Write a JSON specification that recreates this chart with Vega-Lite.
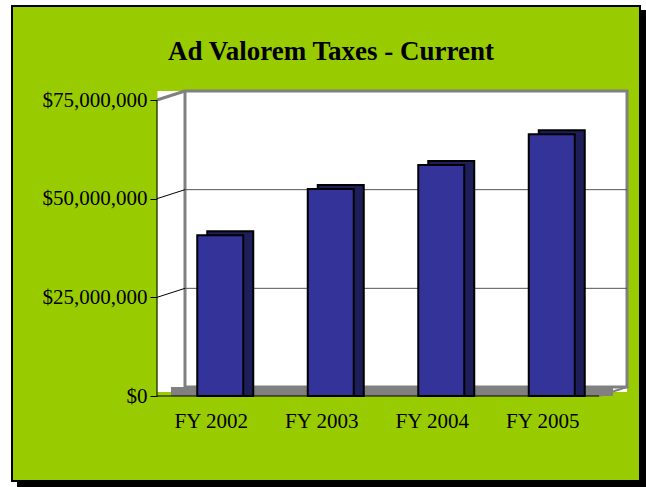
{
  "$schema": "https://vega.github.io/schema/vega-lite/v6.json",
  "width": 628,
  "height": 475,
  "autosize": {"type": "none"},
  "padding": {"left": 12, "top": 6, "right": 6, "bottom": 6},
  "background": "white",
  "config": {
    "view": {"stroke": "black", "strokeWidth": 2, "fill": "#99CC00"},
    "font": "Liberation Serif",
    "axisY": {
      "orient": "left",
      "offset": -145,
      "zindex": 0,
      "format": "$,.0f",
      "domain": false,
      "grid": false,
      "ticks": true,
      "tickColor": "black",
      "tickSize": 7,
      "tickWidth": 1,
      "labelPadding": 3,
      "labelFont": "Liberation Serif",
      "labelFontSize": 21,
      "labelColor": "black",
      "title": null
    }
  },
  "title": {
    "text": "Ad Valorem Taxes - Current",
    "font": "Liberation Serif",
    "fontSize": 27,
    "fontWeight": "bold",
    "color": "black",
    "anchor": "middle",
    "frame": "group",
    "baseline": "alphabetic",
    "offset": -81,
    "dx": 5
  },
  "datasets": {
    "taxes": [
      {"i": 1, "year": "FY 2002", "amount": 40500000},
      {"i": 2, "year": "FY 2003", "amount": 52200000},
      {"i": 3, "year": "FY 2004", "amount": 58300000},
      {"i": 4, "year": "FY 2005", "amount": 66100000}
    ],
    "gridlines": [{"tick": 25000000}, {"tick": 50000000}],
    "one": [{}]
  },
  "layer": [
    {
      "data": {"name": "one"},
      "mark": {"type": "rect", "fill": "black", "xOffset": 1, "x2Offset": 6, "yOffset": 4, "y2Offset": 6},
      "encoding": {
        "x": {"datum": 4.871, "type": "quantitative", "scale": {"domain": [-0.8122, 4.871], "nice": false, "zero": false, "padding": 0}, "axis": null},
        "x2": {"datum": 4.871},
        "y": {"datum": 98818000, "type": "quantitative", "scale": {"domain": [-21537000, 98818000], "nice": false, "zero": false}, "axis": {"title": null, "values": [0, 25000000, 50000000, 75000000]}},
        "y2": {"datum": -21537000}
      }
    },
    {
      "data": {"name": "one"},
      "mark": {"type": "rect", "fill": "black", "xOffset": 5, "x2Offset": 6, "yOffset": 1, "y2Offset": 6},
      "encoding": {
        "x": {"datum": -0.8122, "type": "quantitative", "scale": {"domain": [-0.8122, 4.871], "nice": false, "zero": false, "padding": 0}, "axis": null},
        "x2": {"datum": 4.871},
        "y": {"datum": -21537000, "type": "quantitative", "scale": {"domain": [-21537000, 98818000], "nice": false, "zero": false}, "axis": {"title": null, "values": [0, 25000000, 50000000, 75000000]}},
        "y2": {"datum": -21537000}
      }
    },
    {
      "data": {"name": "one"},
      "mark": {"type": "rect", "fill": "white", "xOffset": 0.5, "x2Offset": 28, "yOffset": -4, "y2Offset": -9},
      "encoding": {
        "x": {"datum": 0.5, "type": "quantitative", "scale": {"domain": [-0.8122, 4.871], "nice": false, "zero": false, "padding": 0}, "axis": null},
        "x2": {"datum": 4.5},
        "y": {"datum": 0, "type": "quantitative", "scale": {"domain": [-21537000, 98818000], "nice": false, "zero": false}, "axis": {"title": null, "values": [0, 25000000, 50000000, 75000000]}},
        "y2": {"datum": 75000000}
      }
    },
    {
      "data": {"name": "one"},
      "mark": {"type": "rect", "fill": "#808080", "xOffset": 14, "x2Offset": 14, "yOffset": -0.01, "y2Offset": -9},
      "encoding": {
        "x": {"datum": 0.5, "type": "quantitative", "scale": {"domain": [-0.8122, 4.871], "nice": false, "zero": false, "padding": 0}, "axis": null},
        "x2": {"datum": 4.5},
        "y": {"datum": 0, "type": "quantitative", "scale": {"domain": [-21537000, 98818000], "nice": false, "zero": false}, "axis": {"title": null, "values": [0, 25000000, 50000000, 75000000]}},
        "y2": {"datum": 0}
      }
    },
    {
      "data": {"name": "one"},
      "mark": {"type": "rect", "fill": null, "filled": false, "stroke": "#808080", "strokeWidth": 3, "xOffset": 28, "x2Offset": 28, "yOffset": -9, "y2Offset": -9},
      "encoding": {
        "x": {"datum": 0.5, "type": "quantitative", "scale": {"domain": [-0.8122, 4.871], "nice": false, "zero": false, "padding": 0}, "axis": null},
        "x2": {"datum": 4.5},
        "y": {"datum": 0, "type": "quantitative", "scale": {"domain": [-21537000, 98818000], "nice": false, "zero": false}, "axis": {"title": null, "values": [0, 25000000, 50000000, 75000000]}},
        "y2": {"datum": 75000000}
      }
    },
    {
      "data": {"name": "one"},
      "mark": {"type": "rule", "stroke": "#808080", "strokeWidth": 3, "x2Offset": 28, "y2Offset": -9},
      "encoding": {
        "x": {"datum": 0.5, "type": "quantitative", "scale": {"domain": [-0.8122, 4.871], "nice": false, "zero": false, "padding": 0}, "axis": null},
        "x2": {"datum": 0.5},
        "y": {"datum": 75000000, "type": "quantitative", "scale": {"domain": [-21537000, 98818000], "nice": false, "zero": false}, "axis": {"title": null, "values": [0, 25000000, 50000000, 75000000]}},
        "y2": {"datum": 75000000}
      }
    },
    {
      "data": {"name": "one"},
      "mark": {"type": "rule", "stroke": "#808080", "strokeWidth": 2, "x2Offset": 28, "y2Offset": -9},
      "encoding": {
        "x": {"datum": 4.5, "type": "quantitative", "scale": {"domain": [-0.8122, 4.871], "nice": false, "zero": false, "padding": 0}, "axis": null},
        "x2": {"datum": 4.5},
        "y": {"datum": 0, "type": "quantitative", "scale": {"domain": [-21537000, 98818000], "nice": false, "zero": false}, "axis": {"title": null, "values": [0, 25000000, 50000000, 75000000]}},
        "y2": {"datum": 0}
      }
    },
    {
      "data": {"name": "gridlines"},
      "mark": {"type": "rule", "stroke": "#555555", "strokeWidth": 1, "xOffset": 28, "x2Offset": 28, "yOffset": -9},
      "encoding": {
        "x": {"datum": 0.5, "type": "quantitative", "scale": {"domain": [-0.8122, 4.871], "nice": false, "zero": false, "padding": 0}, "axis": null},
        "x2": {"datum": 4.5},
        "y": {"field": "tick", "type": "quantitative", "scale": {"domain": [-21537000, 98818000], "nice": false, "zero": false}, "axis": {"title": null, "values": [0, 25000000, 50000000, 75000000]}}
      }
    },
    {
      "data": {"name": "gridlines"},
      "mark": {"type": "rule", "stroke": "black", "strokeWidth": 1, "x2Offset": 28, "y2Offset": -9},
      "encoding": {
        "x": {"datum": 0.5, "type": "quantitative", "scale": {"domain": [-0.8122, 4.871], "nice": false, "zero": false, "padding": 0}, "axis": null},
        "x2": {"datum": 0.5},
        "y": {"field": "tick", "type": "quantitative", "scale": {"domain": [-21537000, 98818000], "nice": false, "zero": false}, "axis": {"title": null, "values": [0, 25000000, 50000000, 75000000]}},
        "y2": {"field": "tick"}
      }
    },
    {
      "data": {"name": "one"},
      "mark": {"type": "rule", "stroke": "black", "strokeWidth": 1},
      "encoding": {
        "x": {"datum": 0.5, "type": "quantitative", "scale": {"domain": [-0.8122, 4.871], "nice": false, "zero": false, "padding": 0}, "axis": null},
        "y": {"datum": 0, "type": "quantitative", "scale": {"domain": [-21537000, 98818000], "nice": false, "zero": false}, "axis": {"title": null, "values": [0, 25000000, 50000000, 75000000]}},
        "y2": {"datum": 75000000}
      }
    },
    {
      "data": {"name": "one"},
      "mark": {"type": "rule", "stroke": "black", "strokeWidth": 1},
      "encoding": {
        "x": {"datum": 0.5, "type": "quantitative", "scale": {"domain": [-0.8122, 4.871], "nice": false, "zero": false, "padding": 0}, "axis": null},
        "x2": {"datum": 4.5},
        "y": {"datum": 0, "type": "quantitative", "scale": {"domain": [-21537000, 98818000], "nice": false, "zero": false}, "axis": {"title": null, "values": [0, 25000000, 50000000, 75000000]}}
      }
    },
    {
      "data": {"name": "taxes"},
      "mark": {"type": "bar", "size": 46, "fill": "#1E1E5A", "stroke": "black", "strokeWidth": 2, "xOffset": 18, "x2Offset": 18, "yOffset": -5, "y2Offset": -5},
      "encoding": {
        "x": {"field": "i", "type": "quantitative", "scale": {"domain": [-0.8122, 4.871], "nice": false, "zero": false, "padding": 0}, "axis": null},
        "y": {"field": "amount", "type": "quantitative", "stack": null, "scale": {"domain": [-21537000, 98818000], "nice": false, "zero": false}, "axis": {"title": null, "values": [0, 25000000, 50000000, 75000000]}}
      }
    },
    {
      "data": {"name": "taxes"},
      "mark": {"type": "bar", "size": 46, "fill": "#333399", "stroke": "black", "strokeWidth": 2, "xOffset": 8, "x2Offset": 8, "yOffset": -1, "y2Offset": -1},
      "encoding": {
        "x": {"field": "i", "type": "quantitative", "scale": {"domain": [-0.8122, 4.871], "nice": false, "zero": false, "padding": 0}, "axis": null},
        "y": {"field": "amount", "type": "quantitative", "stack": null, "scale": {"domain": [-21537000, 98818000], "nice": false, "zero": false}, "axis": {"title": null, "values": [0, 25000000, 50000000, 75000000]}}
      }
    },
    {
      "data": {"name": "taxes"},
      "mark": {"type": "text", "font": "Liberation Serif", "fontSize": 21, "color": "black", "baseline": "alphabetic", "align": "center", "dy": 32, "dx": -1},
      "encoding": {
        "x": {"field": "i", "type": "quantitative", "scale": {"domain": [-0.8122, 4.871], "nice": false, "zero": false, "padding": 0}, "axis": null},
        "y": {"datum": 0, "type": "quantitative", "scale": {"domain": [-21537000, 98818000], "nice": false, "zero": false}, "axis": {"title": null, "values": [0, 25000000, 50000000, 75000000]}},
        "text": {"field": "year"}
      }
    }
  ]
}
